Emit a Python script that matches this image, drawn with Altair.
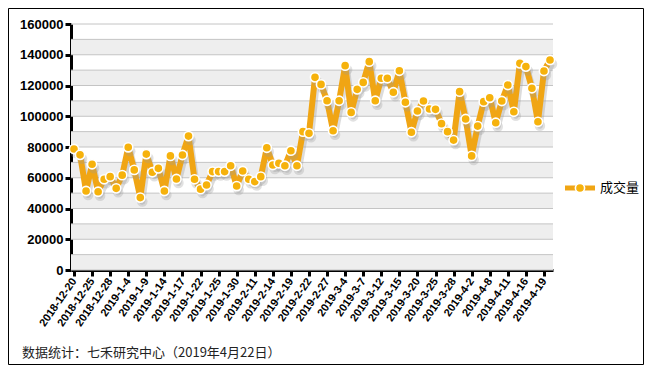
import altair as alt
import pandas as pd

dates = [
    "2018-12-20", "2018-12-21", "2018-12-24", "2018-12-25", "2018-12-26", "2018-12-27", "2018-12-28",
    "2019-1-2", "2019-1-3", "2019-1-4", "2019-1-7", "2019-1-8", "2019-1-9", "2019-1-10", "2019-1-11",
    "2019-1-14", "2019-1-15", "2019-1-16", "2019-1-17", "2019-1-18", "2019-1-21", "2019-1-22",
    "2019-1-23", "2019-1-24", "2019-1-25", "2019-1-28", "2019-1-29", "2019-1-30", "2019-1-31", "2019-2-1",
    "2019-2-11", "2019-2-12", "2019-2-13", "2019-2-14", "2019-2-15", "2019-2-18", "2019-2-19",
    "2019-2-20", "2019-2-21", "2019-2-22", "2019-2-25", "2019-2-26", "2019-2-27", "2019-2-28",
    "2019-3-1", "2019-3-4", "2019-3-5", "2019-3-6", "2019-3-7", "2019-3-8", "2019-3-11", "2019-3-12",
    "2019-3-13", "2019-3-14", "2019-3-15", "2019-3-18", "2019-3-19", "2019-3-20", "2019-3-21",
    "2019-3-22", "2019-3-25", "2019-3-26", "2019-3-27", "2019-3-28", "2019-3-29",
    "2019-4-1", "2019-4-2", "2019-4-3", "2019-4-4", "2019-4-8", "2019-4-9", "2019-4-10", "2019-4-11",
    "2019-4-12", "2019-4-15", "2019-4-16", "2019-4-17", "2019-4-18", "2019-4-19", "2019-4-22",
]

volume = [
    78700, 74900, 51400, 68800, 50900, 59000, 60700, 53100, 61700, 79800,
    65100, 47100, 75400, 63600, 66100, 51400, 74200, 59200, 74800, 87100,
    59000, 52600, 55300, 64000, 64000, 64000, 67800, 54600, 64400, 59000,
    57500, 60700, 79500, 68300, 69400, 67800, 77600, 67800, 90000, 88900,
    125300, 120700, 110100, 90600, 110100, 132900, 102500, 117500, 122000, 135500,
    110100, 124700, 124700, 115600, 129600, 109100, 89600, 103400, 109900, 104700,
    104500, 95200, 90000, 84500, 116000, 98200, 74200, 93600, 109500, 112000,
    95800, 109900, 120300, 102900, 134400, 132300, 118200, 96400, 129400, 136600,
]

tick_labels = [
    "2018-12-20", "2018-12-25", "2018-12-28", "2019-1-4", "2019-1-9", "2019-1-14", "2019-1-17",
    "2019-1-22", "2019-1-25", "2019-1-30", "2019-2-11", "2019-2-14", "2019-2-19", "2019-2-22",
    "2019-2-27", "2019-3-4", "2019-3-7", "2019-3-12", "2019-3-15", "2019-3-20", "2019-3-25",
    "2019-3-28", "2019-4-2", "2019-4-8", "2019-4-11", "2019-4-16", "2019-4-19",
]

y_ticks = [0, 20000, 40000, 60000, 80000, 100000, 120000, 140000, 160000]
grid_values = [0, 10000, 20000, 30000, 40000, 50000, 60000, 70000, 80000,
               90000, 100000, 110000, 120000, 130000, 140000, 150000, 160000]
band_lo = [0, 20000, 40000, 60000, 80000, 100000, 120000, 140000]
band_hi = [10000, 30000, 50000, 70000, 90000, 110000, 130000, 150000]

series_name = "成交量"
source_note = "数据统计：七禾研究中心（2019年4月22日）"

W, H = 482, 246
LINE = "#F0A514"
DOT = "#F6B20C"
FONT = "Arial, Liberation Sans, sans-serif"
CJK = "Noto Sans CJK SC"

df = pd.DataFrame({"date": dates, "volume": volume})
bands = pd.DataFrame({"lo": band_lo, "hi": band_hi})
grid = pd.DataFrame({"g": grid_values})
one = pd.DataFrame({"name": [series_name], "note": [source_note]})

x_axis = alt.Axis(
    values=tick_labels, labelAngle=-55, labelAlign="right", labelBaseline="middle",
    labelFont=FONT, labelFontWeight="bold", labelFontSize=11, labelColor="#000",
    labelPadding=3, domainColor="#000", domainWidth=3, tickColor="#000", tickWidth=3,
    tickSize=6, grid=False, title=None, labelOverlap=False,
)
y_axis = alt.Axis(
    values=y_ticks, format="d", labelFont=FONT, labelFontWeight="bold", labelFontSize=13,
    labelColor="#000", labelPadding=2, domainColor="#000", domainWidth=3,
    tickColor="#000", tickWidth=3, tickSize=6, grid=False, title=None,
)
x_scale = alt.Scale(type="point", padding=0.5)
y_scale = alt.Scale(domain=[0, 160000], nice=False, zero=True)

X = alt.X("date:N", sort=None, scale=x_scale, axis=x_axis)
Y = alt.Y("volume:Q", scale=y_scale, axis=y_axis)

band_layer = alt.Chart(bands).mark_rect(fill="#EEEEEE").encode(
    y=alt.Y("lo:Q", scale=y_scale, axis=y_axis), y2="hi:Q",
    x=alt.value(0), x2=alt.value(W),
)
grid_layer = alt.Chart(grid).mark_rule(color="#C4C4C4", strokeWidth=1).encode(
    y=alt.Y("g:Q", scale=y_scale, axis=y_axis),
    x=alt.value(0), x2=alt.value(W),
)
shadow_line = alt.Chart(df).mark_line(
    color="#9a9a9a", strokeWidth=6, opacity=0.35, xOffset=2, yOffset=4, strokeJoin="round"
).encode(x=X, y=Y)
line = alt.Chart(df).mark_line(color=LINE, strokeWidth=6, strokeJoin="round").encode(x=X, y=Y)
shadow_pts = alt.Chart(df).mark_circle(
    color="#9a9a9a", size=110, opacity=0.3, xOffset=2, yOffset=4
).encode(x=X, y=Y)
pts = alt.Chart(df).mark_point(
    shape="circle", filled=True, fill=DOT, stroke="white", strokeWidth=1.6, size=85, opacity=1
).encode(x=X, y=Y)

leg_line = alt.Chart(one).mark_rule(color=LINE, strokeWidth=5).encode(
    x=alt.value(W + 12), x2=alt.value(W + 42), y=alt.value(164)
)
leg_dot = alt.Chart(one).mark_point(
    shape="circle", filled=True, fill=DOT, stroke="white", strokeWidth=1.6, size=85, opacity=1
).encode(x=alt.value(W + 27), y=alt.value(164))
leg_text = alt.Chart(one).mark_text(
    align="left", baseline="middle", font=CJK, fontSize=13, color="#000"
).encode(x=alt.value(W + 47), y=alt.value(164), text="name:N")

footer = alt.Chart(one).mark_text(
    align="left", baseline="middle", font=CJK, fontSize=13, color="#222"
).encode(x=alt.value(-49), y=alt.value(329), text="note:N")

border = alt.Chart(one).mark_rect(
    fillOpacity=0, stroke="#000", strokeWidth=1
).encode(
    x=alt.value(-62.5), x2=alt.value(W + 90.5), y=alt.value(-15.5), y2=alt.value(H + 94.5)
)

chart = alt.layer(
    band_layer, grid_layer, shadow_line, line, shadow_pts, pts,
    leg_line, leg_dot, leg_text, footer, border,
).properties(
    width=W, height=H,
    autosize=alt.AutoSizeParams(type="none"),
    padding={"left": 63, "top": 16, "right": 91, "bottom": 95},
    background="white",
).configure_view(stroke=None)

chart.save("out.html", embed_options={"renderer": "svg", "actions": False})
